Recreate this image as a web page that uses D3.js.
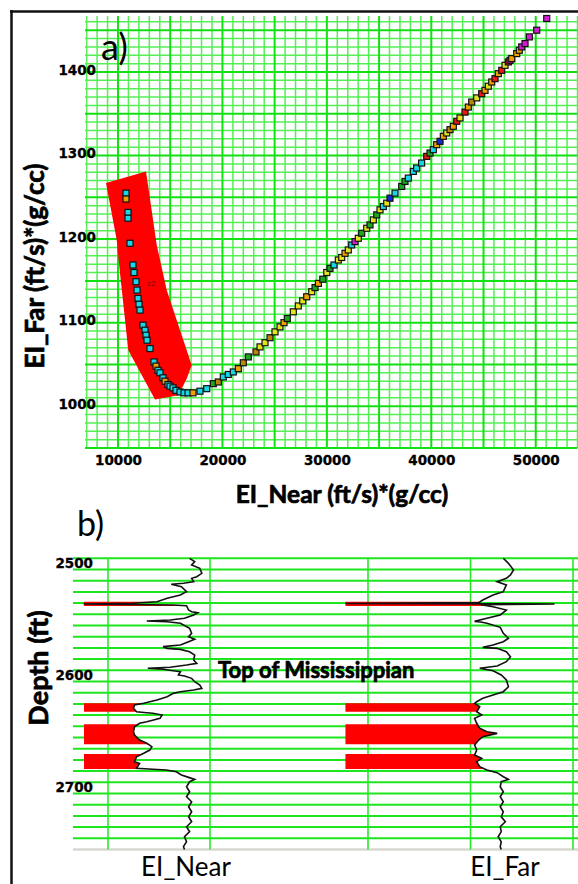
<!DOCTYPE html>
<html>
<head>
<meta charset="utf-8">
<script src="https://cdn.jsdelivr.net/npm/d3@7"></script>
<style>
html, body { margin: 0; padding: 0; background: #fff; }
svg { display: block; }
</style>
</head>
<body>
<div id="chart"></div>
<script>
// ---------- a) cross-plot: EI_Near vs EI_Far ----------
const nearEI = [10766, 10766, 10958, 10958, 11149, 11436, 11532, 11724, 11820, 11915,
  12011, 12107, 12394, 12586, 12681, 12777, 13064, 13447, 13639, 13830,
  14022, 14309, 14500, 14788, 14980, 15267, 15554, 15937, 16320, 16703,
  17182, 17852, 18494, 19126, 19605, 20084, 20563, 21041, 21520, 21999,
  22478, 23215, 23598, 24077, 24556, 25034, 25513, 25896, 26212, 26787,
  27266, 27687, 28070, 28549, 28868, 29188, 29609, 29992, 30302, 30686,
  31097, 31421, 31738, 32053, 32379, 32695, 33011, 33337, 33816, 34132,
  34448, 34774, 35089, 35410, 35731, 36047, 36526, 37167, 37483, 37799,
  38278, 38594, 39073, 39561, 39877, 40193, 40519, 40835, 41151, 41477,
  41792, 42109, 42435, 42750, 43229, 43545, 43871, 44350, 44828, 45144,
  45460, 45786, 46102, 46418, 46743, 47059, 47375, 47538, 47700, 48179,
  48428, 48658, 48974, 49386, 50094, 51053];
const farEI = [1255, 1248, 1232, 1225, 1195, 1169, 1160, 1149, 1139, 1129,
  1122, 1115, 1097, 1091, 1085, 1079, 1069, 1053, 1048, 1043,
  1040, 1034, 1030, 1026, 1024, 1022, 1019, 1017, 1016, 1016,
  1016, 1018, 1021, 1027, 1029, 1035, 1038, 1041, 1045, 1052,
  1059, 1065, 1071, 1076, 1082, 1089, 1095, 1100, 1105, 1113,
  1120, 1126, 1131, 1137, 1142, 1147, 1152, 1160, 1165, 1169,
  1175, 1178, 1183, 1187, 1193, 1197, 1201, 1207, 1213, 1217,
  1223, 1229, 1235, 1239, 1243, 1249, 1255, 1263, 1269, 1273,
  1281, 1285, 1291, 1299, 1303, 1307, 1313, 1317, 1323, 1327,
  1331, 1335, 1341, 1345, 1352, 1358, 1364, 1369, 1374, 1378,
  1383, 1388, 1392, 1398, 1402, 1408, 1412, 1414, 1416, 1422,
  1426, 1430, 1434, 1442, 1450, 1464];
// facies code of every point: C cyan, O orange, Y yellow, G green, B brown, R red, M magenta, U blue
const facies = ('COCCCCCCCC' + 'CCCCCCCCOC' + 'CCOCCCCCCC' + 'OCCGBCCCOB' +
  'GBYYBYYOGY' + 'YYOYGOGYGC' + 'YYOYCMYGYG' + 'YGYCYUCGGC' +
  'CCCRGCOUOY' + 'BORYROBYRO' + 'YORORYRMOO' + 'OMMMMM').split('');
const faciesNames = ['C', 'O', 'Y', 'G', 'B', 'R', 'M', 'U'];
const faciesColors = ['#17d6e8', '#f0a000', '#e4e41c', '#1ea51e', '#b8860b', '#f01414', '#d21ed2', '#1428d2'];

// red selection polygon "z2" drawn on the cross-plot
const zoneNear = [8851, 12681, 13706, 14664, 17058, 16579, 15774, 13543, 10986, 10192, 9876];
const zoneFar = [1267, 1281, 1193, 1139, 1049, 1033, 1013, 1008, 1067, 1159, 1199];

const xTicks = [10000, 20000, 30000, 40000, 50000];
const yTicks = [1000, 1100, 1200, 1300, 1400];

// ---------- b) logs vs depth ----------
const nearDepth = [2500, 2503, 2506, 2509, 2513.4, 2516.4, 2517.9, 2520.9, 2522.3, 2523.2,
  2525.4, 2529.8, 2532.8, 2535.7, 2538.8, 2540.2, 2540.8, 2541.7, 2542.3, 2546.2,
  2547.7, 2548.5, 2550.6, 2553.6, 2555.1, 2556, 2556.6, 2558, 2562.5, 2567,
  2570, 2572.3, 2574.5, 2577.4, 2578.9, 2580.4, 2581.3, 2583.4, 2586.4, 2590.8,
  2593.8, 2595.3, 2597.3, 2598.2, 2599.1, 2601.3, 2604.2, 2605.1, 2607.2, 2610.2,
  2613.1, 2616.1, 2617.6, 2619.1, 2620.6, 2623.6, 2626.5, 2629.5, 2631, 2634,
  2637, 2637.9, 2638.4, 2639.9, 2642.9, 2645.9, 2647.3, 2650.4, 2654.8, 2657.8,
  2662.3, 2665.2, 2668.2, 2671.2, 2674.1, 2677.2, 2681.6, 2683.1, 2687.5, 2688.4,
  2689, 2690.6, 2693.5, 2695.6, 2697.4, 2699.5, 2704, 2708.4, 2712.9, 2717.4,
  2721.8, 2726.3, 2730.8, 2735.2, 2739.7, 2744.1, 2748.6, 2753.1, 2757.5, 2760];
const nearLog = [18000, 18500, 18200, 19000, 19200, 18700, 18200, 18400, 17400, 16200,
  17200, 17700, 17100, 15800, 14800, 12500, 7600, 16400, 17700, 17900,
  18200, 18800, 18400, 17500, 16100, 13800, 15800, 17100, 18000, 18200,
  17900, 18500, 17900, 17100, 15400, 15800, 17100, 18000, 18500, 18400,
  18700, 17700, 16100, 13900, 15400, 17100, 16900, 17500, 18200, 18500,
  19000, 19200, 18400, 17100, 16400, 15800, 14800, 13500, 12600, 12500,
  12800, 13800, 14400, 15300, 15100, 13800, 13100, 12600, 12500, 12600,
  13100, 13800, 14300, 14100, 13500, 12800, 12600, 13100, 12800, 14400,
  15700, 16700, 17200, 17900, 18500, 18000, 17700, 18000, 17700, 18200,
  17900, 18200, 17900, 18200, 17700, 18000, 17500, 17700, 17400, 17500];
const farDepth = [2500, 2504.5, 2510.4, 2514.9, 2517.9, 2520.9, 2523.8, 2529.8, 2532.8, 2537.2,
  2539.6, 2540.3, 2540.8, 2541.4, 2543.2, 2546.2, 2550.6, 2553.6, 2556.3, 2556.9,
  2558, 2561.6, 2567, 2571.4, 2574.5, 2577.4, 2579.5, 2580.4, 2583.4, 2587.9,
  2592.3, 2596.2, 2598.2, 2600.4, 2604.2, 2608.7, 2614.7, 2619.1, 2622.1, 2625,
  2628.1, 2629.5, 2632.5, 2637, 2639.9, 2642.9, 2647.3, 2651.8, 2654.8, 2656.3,
  2659.3, 2662.3, 2666.7, 2671.2, 2675.7, 2678.6, 2681.6, 2686.1, 2689, 2691.4,
  2695, 2697.4, 2699.5, 2704, 2708.4, 2712.9, 2717.4, 2721.8, 2726.3, 2730.8,
  2735.2, 2739.7, 2744.1, 2748.6, 2753.1, 2757.5, 2760];
const farLog = [1132, 1137, 1142, 1139, 1135, 1126, 1135, 1132, 1122, 1112,
  1108, 978, 1182, 1110, 1122, 1135, 1129, 1116, 1104, 1110,
  1116, 1129, 1132, 1137, 1132, 1122, 1112, 1126, 1135, 1139,
  1135, 1126, 1109, 1122, 1130, 1135, 1137, 1132, 1122, 1112,
  1106, 1104, 1109, 1106, 1111, 1104, 1106, 1109, 1116, 1126,
  1112, 1108, 1104, 1106, 1104, 1111, 1106, 1109, 1116, 1126,
  1132, 1137, 1130, 1129, 1132, 1129, 1132, 1129, 1132, 1130,
  1134, 1129, 1130, 1127, 1130, 1129, 1130];
// depth intervals flagged by the z2 polygon
const zoneTops = [2538.8, 2629.5, 2648.2, 2674.8];
const zoneBases = [2542.6, 2637, 2666.1, 2688.2];
const nearBase = 7650, farBase = 978;
const depthTicks = [2500, 2600, 2700];
const nearGrid = [10000, 20000];
const farGrid = [1000, 1100, 1200];

const W = 578, H = 884;
const svg = d3.select('#chart').append('svg').attr('width', W).attr('height', H);
const tickFont = 'DejaVu Sans, Verdana, sans-serif';
const titleFont = 'Lato, Open Sans, sans-serif';

// heavy title text (Calibri-bold look)
function title(g, txt, size, bold) {
  const t = g.append('text').attr('font-family', titleFont).attr('font-size', size).text(txt);
  if (bold) t.attr('font-weight', 'bold').attr('stroke', '#000').attr('stroke-width', 0.7);
  return t;
}

// frame
svg.append('line').attr('x1', 10).attr('x2', W).attr('y1', 11.5).attr('y2', 11.5)
  .attr('stroke', '#111').attr('stroke-width', 2.5);
svg.append('line').attr('x1', 11.5).attr('x2', 11.5).attr('y1', 10).attr('y2', H)
  .attr('stroke', '#111').attr('stroke-width', 2.5);

// ================= panel a =================
const x = d3.scaleLinear().domain([6840, 54000]).range([85, 577.5]);
const y = d3.scaleLinear().domain([950, 1467]).range([448, 16]);
const ga = svg.append('g');

const vMinor = d3.range(7000, 54001, 1000).filter(v => v % 5000 !== 0);
const vMajor = d3.range(10000, 54001, 5000);
const hMinor = d3.range(950, 1461, 10).filter(v => v % 50 !== 0);
const hMajor = d3.range(950, 1461, 50);

ga.selectAll('line.vmin').data(vMinor).join('line')
  .attr('x1', d => x(d)).attr('x2', d => x(d)).attr('y1', 16).attr('y2', 448)
  .attr('stroke', '#55ee55').attr('stroke-width', 1.5);
ga.selectAll('line.hmin').data(hMinor).join('line')
  .attr('x1', 85).attr('x2', 577.5).attr('y1', d => y(d)).attr('y2', d => y(d))
  .attr('stroke', '#55ee55').attr('stroke-width', 1.5);
ga.selectAll('line.vmaj').data(vMajor).join('line')
  .attr('x1', d => x(d)).attr('x2', d => x(d)).attr('y1', 16).attr('y2', 448)
  .attr('stroke', '#12e012').attr('stroke-width', 2);
ga.selectAll('line.hmaj').data(hMajor).join('line')
  .attr('x1', 85).attr('x2', 577.5).attr('y1', d => y(d)).attr('y2', d => y(d))
  .attr('stroke', '#12e012').attr('stroke-width', 2);

// z2 polygon
ga.append('path')
  .attr('d', d3.line().x(i => x(zoneNear[i])).y(i => y(zoneFar[i]))(d3.range(zoneNear.length)) + 'Z')
  .attr('fill', '#ff0000');
ga.append('text').attr('x', x(12777)).attr('y', y(1144))
  .attr('font-family', 'Liberation Sans, Arial, sans-serif').attr('font-size', 8)
  .attr('fill', '#8a0000').text('z2');

// points
const color = d3.scaleOrdinal().domain(faciesNames).range(faciesColors);
const ps = 6;
ga.selectAll('rect.pt').data(d3.range(nearEI.length)).join('rect')
  .attr('x', i => x(nearEI[i]) - ps / 2).attr('y', i => y(farEI[i]) - ps / 2)
  .attr('width', ps).attr('height', ps)
  .attr('fill', i => color(facies[i]))
  .attr('stroke', '#111').attr('stroke-width', 1.2);

// axes labels
const xAxis = ga.append('g').attr('transform', 'translate(0,448)')
  .call(d3.axisBottom(x).tickValues(xTicks).tickSize(0).tickPadding(7).tickFormat(d3.format('d')));
const yAxis = ga.append('g').attr('transform', 'translate(85,-2)')
  .call(d3.axisLeft(y).tickValues(yTicks).tickSize(0).tickPadding(-11).tickFormat(d3.format('d')));
[xAxis, yAxis].forEach(a => {
  a.select('.domain').remove();
  a.selectAll('text').attr('font-family', tickFont).attr('font-weight', 'bold')
    .attr('font-size', 13.5).attr('fill', '#000').attr('stroke', '#000').attr('stroke-width', 0.3);
});

title(ga, 'EI_Near (ft/s)*(g/cc)', 24.5, true).attr('x', 342).attr('y', 503).attr('text-anchor', 'middle');
title(ga, 'EI_Far (ft/s)*(g/cc)', 26, true).attr('transform', 'translate(44,266) rotate(-90)')
  .attr('text-anchor', 'middle');
title(ga, 'a)', 36, false).attr('x', 101).attr('y', 60);

// ================= panel b =================
const depth = d3.scaleLinear().domain([2500, 2760]).range([558.3, 849.5]);
const xn = d3.scaleLinear().domain([10000, 20000]).range([108, 210]);
const xf = d3.scaleLinear().domain([1000, 1200]).range([368, 573]);
const gb = svg.append('g');

const hLines = d3.range(2500, 2751, 10);
gb.selectAll('line.dh').data(hLines).join('line')
  .attr('x1', 73).attr('x2', W).attr('y1', d => depth(d)).attr('y2', d => depth(d))
  .attr('stroke', '#1ee61e').attr('stroke-width', 2);
gb.append('line').attr('x1', 73).attr('x2', W).attr('y1', depth(2760)).attr('y2', depth(2760))
  .attr('stroke', '#d8d8d0').attr('stroke-width', 2.5);
gb.selectAll('line.nv').data(nearGrid).join('line')
  .attr('x1', d => xn(d)).attr('x2', d => xn(d)).attr('y1', depth(2500)).attr('y2', depth(2760))
  .attr('stroke', '#1ee61e').attr('stroke-width', 1.5);
gb.selectAll('line.fv').data(farGrid).join('line')
  .attr('x1', d => xf(d)).attr('x2', d => xf(d)).attr('y1', depth(2500)).attr('y2', depth(2760))
  .attr('stroke', '#1ee61e').attr('stroke-width', 1.5);

// clip to flagged intervals
const clip = svg.append('defs').append('clipPath').attr('id', 'zones');
clip.selectAll('rect').data(d3.range(zoneTops.length)).join('rect')
  .attr('x', 0).attr('width', W)
  .attr('y', i => depth(zoneTops[i])).attr('height', i => depth(zoneBases[i]) - depth(zoneTops[i]));

const nearIdx = d3.range(nearDepth.length);
const farIdx = d3.range(farDepth.length);
gb.append('path').attr('clip-path', 'url(#zones)').attr('fill', '#ff0000')
  .attr('d', d3.area().y(i => depth(nearDepth[i])).x0(xn(nearBase)).x1(i => xn(nearLog[i]))(nearIdx));
gb.append('path').attr('clip-path', 'url(#zones)').attr('fill', '#ff0000')
  .attr('d', d3.area().y(i => depth(farDepth[i])).x0(xf(farBase)).x1(i => xf(farLog[i]))(farIdx));

gb.append('path').attr('fill', 'none').attr('stroke', '#111').attr('stroke-width', 1.6)
  .attr('d', d3.line().x(i => xn(nearLog[i])).y(i => depth(nearDepth[i]))(nearIdx));
gb.append('path').attr('fill', 'none').attr('stroke', '#111').attr('stroke-width', 1.6)
  .attr('d', d3.line().x(i => xf(farLog[i])).y(i => depth(farDepth[i]))(farIdx));

const dAxis = gb.append('g').attr('transform', 'translate(93,5)')
  .call(d3.axisLeft(depth).tickValues(depthTicks).tickSize(0).tickPadding(0).tickFormat(d3.format('d')));
dAxis.select('.domain').remove();
dAxis.selectAll('text').attr('font-family', tickFont).attr('font-weight', 'bold')
  .attr('font-size', 13.5).attr('fill', '#000').attr('stroke', '#000').attr('stroke-width', 0.3);

title(gb, 'Depth (ft)', 27, true).attr('transform', 'translate(48,668) rotate(-90)')
  .attr('text-anchor', 'middle');
title(gb, 'b)', 34, false).attr('x', 77).attr('y', 536);
title(gb, 'Top of Mississippian', 22, true).attr('x', 218).attr('y', 678);
title(gb, 'EI_Near', 26, false).attr('x', 186).attr('y', 876).attr('text-anchor', 'middle');
title(gb, 'EI_Far', 26, false).attr('x', 505).attr('y', 876).attr('text-anchor', 'middle');
</script>
</body>
</html>
